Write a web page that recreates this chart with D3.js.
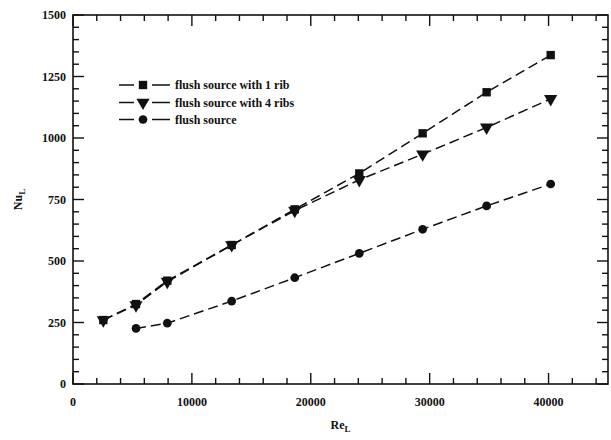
<!DOCTYPE html>
<html>
<head>
<meta charset="utf-8">
<script src="https://cdn.jsdelivr.net/npm/d3@7"></script>
<style>
  html, body { margin: 0; padding: 0; background: #fff; }
  svg text { font-family: "Liberation Serif", "DejaVu Serif", serif; font-weight: bold; fill: #111; }
</style>
</head>
<body>
<svg id="chart" width="611" height="440"></svg>
<script>
// Reynolds numbers of the measurements
const reynolds = [2550, 5300, 7930, 13350, 18650, 24080, 29410, 34790, 40180];
// Average Nusselt number for each configuration
const nuOneRib   = [260, 325, 420, 565, 710, 856, 1019, 1186, 1337];
const nuFourRibs = [260, 321, 416, 565, 705, 830, 934, 1043, 1159];
const nuFlush    = [null, 226, 247, 337, 432, 531, 629, 724, 813];

const seriesNames = ["flush source with 1 rib", "flush source with 4 ribs", "flush source"];
const seriesSymbols = ["square", "triangle", "circle"];

const xTicks = [0, 10000, 20000, 30000, 40000];
const yTicks = [0, 250, 500, 750, 1000, 1250, 1500];

const svg = d3.select("#chart");
const plotLeft = 73, plotRight = 608, plotTop = 15, plotBottom = 384;

const x = d3.scaleLinear().domain([0, 45000]).range([plotLeft, plotRight]);
const y = d3.scaleLinear().domain([0, 1500]).range([plotBottom, plotTop]);

const ink = "#111";

// frame ticks (all four sides, pointing inward)
const xMinor = d3.range(0, 45001, 2000);
const yMinor = d3.range(0, 1501, 50);
const majLen = 11, minLen = 6;

const tickG = svg.append("g").attr("stroke", ink).attr("stroke-width", 1.4);
xMinor.forEach(v => {
  const len = (v % 10000 === 0) ? majLen : minLen;
  tickG.append("line").attr("x1", x(v)).attr("x2", x(v)).attr("y1", plotBottom).attr("y2", plotBottom - len);
  tickG.append("line").attr("x1", x(v)).attr("x2", x(v)).attr("y1", plotTop).attr("y2", plotTop + len);
});
yMinor.forEach(v => {
  const len = (v % 250 === 0) ? majLen : minLen;
  tickG.append("line").attr("y1", y(v)).attr("y2", y(v)).attr("x1", plotLeft).attr("x2", plotLeft + len);
  tickG.append("line").attr("y1", y(v)).attr("y2", y(v)).attr("x1", plotRight).attr("x2", plotRight - len);
});

svg.append("rect")
  .attr("x", plotLeft).attr("y", plotTop)
  .attr("width", plotRight - plotLeft).attr("height", plotBottom - plotTop)
  .attr("fill", "none").attr("stroke", ink).attr("stroke-width", 1.6);

// tick labels
svg.append("g").selectAll("text").data(xTicks).join("text")
  .attr("x", d => x(d)).attr("y", plotBottom + 22)
  .attr("text-anchor", "middle").attr("font-size", 12)
  .text(d => d);

svg.append("g").selectAll("text").data(yTicks).join("text")
  .attr("x", plotLeft - 7).attr("y", d => y(d) + 4)
  .attr("text-anchor", "end").attr("font-size", 12)
  .text(d => d);

// axis titles
const xt = svg.append("text").attr("x", (plotLeft + plotRight) / 2).attr("y", 429)
  .attr("text-anchor", "middle").attr("font-size", 12);
xt.append("tspan").text("Re");
xt.append("tspan").attr("font-size", 9).attr("dy", 3).text("L");

const yt = svg.append("text").attr("transform", `translate(22,${(plotTop + plotBottom) / 2}) rotate(-90)`)
  .attr("text-anchor", "middle").attr("font-size", 12);
yt.append("tspan").text("Nu");
yt.append("tspan").attr("font-size", 9).attr("dy", 3).text("L");

// series
const symbolFor = {
  square: d3.symbol().type(d3.symbolSquare).size(70),
  triangle: d3.symbol().type(d3.symbolTriangle).size(75),
  circle: d3.symbol().type(d3.symbolCircle).size(60)
};

function drawMarker(g, kind, cx, cy) {
  const rot = kind === "triangle" ? " rotate(180)" : "";
  g.append("path")
    .attr("d", symbolFor[kind]())
    .attr("transform", `translate(${cx},${cy})${rot}`)
    .attr("fill", ink);
}

const allSeries = [nuOneRib, nuFourRibs, nuFlush];
const line = d3.line()
  .x(d => x(d[0])).y(d => y(d[1]));

allSeries.forEach((vals, i) => {
  const pts = reynolds.map((r, j) => [r, vals[j]]).filter(p => p[1] != null);
  svg.append("path")
    .attr("d", line(pts))
    .attr("fill", "none").attr("stroke", ink).attr("stroke-width", 1.5)
    .attr("stroke-dasharray", "10,5");
  const g = svg.append("g");
  pts.forEach(p => drawMarker(g, seriesSymbols[i], x(p[0]), y(p[1])));
});

// legend
const legendY = [85, 102.5, 119.5];
seriesNames.forEach((name, i) => {
  const g = svg.append("g");
  const ly = legendY[i];
  g.append("line").attr("x1", 119).attr("x2", 134).attr("y1", ly).attr("y2", ly)
    .attr("stroke", ink).attr("stroke-width", 1.5);
  g.append("line").attr("x1", 152).attr("x2", 170).attr("y1", ly).attr("y2", ly)
    .attr("stroke", ink).attr("stroke-width", 1.5);
  drawMarker(g, seriesSymbols[i], 143, ly);
  g.append("text").attr("x", 175).attr("y", ly + 4).attr("font-size", 12).text(name);
});
</script>
</body>
</html>
